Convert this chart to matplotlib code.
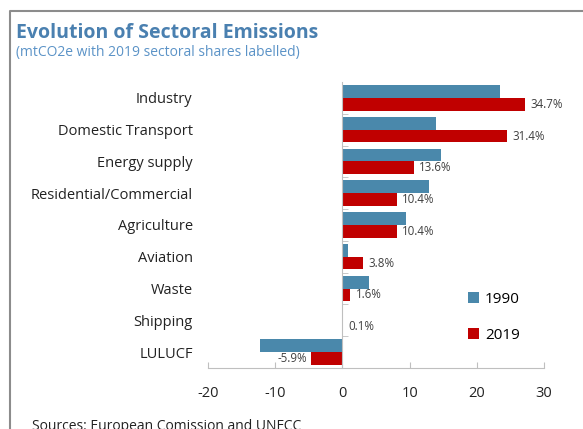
import matplotlib.pyplot as plt
import numpy as np
from matplotlib.lines import Line2D

plt.rcParams["font.family"] = ["Open Sans", "DejaVu Sans"]
plt.rcParams["axes.unicode_minus"] = False

sectors = ["Industry", "Domestic Transport", "Energy supply", "Residential/Commercial",
           "Agriculture", "Aviation", "Waste", "Shipping", "LULUCF"]
emissions_1990 = [23.4, 14.0, 14.7, 12.9, 9.5, 0.8, 4.0, 0.05, -12.3]
emissions_2019 = [27.1, 24.5, 10.6, 8.1, 8.1, 3.0, 1.2, 0.08, -4.7]
shares_2019 = ["34.7%", "31.4%", "13.6%", "10.4%", "10.4%", "3.8%", "1.6%", "0.1%", "-5.9%"]

blue = "#4a88ab"
red = "#c00000"
grey = "#bfbfbf"

fig = plt.figure(figsize=(5.83, 4.29), dpi=100)
ax = fig.add_axes([0.3568, 0.1422, 0.5763, 0.6667])

y = np.arange(len(sectors))
h = 0.4
ax.barh(y - h / 2, emissions_1990, height=h, color=blue, label="1990")
ax.barh(y + h / 2, emissions_2019, height=h, color=red, label="2019")

for yi, v, s in zip(y, emissions_2019, shares_2019):
    if v < 0:
        ax.annotate(s, (v, yi + h / 2), xytext=(-3, 0), textcoords="offset points",
                    ha="right", va="center", fontsize=8.3, color="#404040")
    else:
        ax.annotate(s, (v, yi + h / 2), xytext=(4, 0), textcoords="offset points",
                    ha="left", va="center", fontsize=8.3, color="#404040")

ax.set_xlim(-20, 30)
ax.set_ylim(len(sectors) - 0.5, -0.5)
ax.set_xticks([-20, -10, 0, 10, 20, 30])
ax.tick_params(axis="x", direction="in", length=4, color=grey, labelsize=10.5,
               pad=13, labelcolor="#222222")

# y axis drawn at zero, with small marks between categories
for side in ["top", "right"]:
    ax.spines[side].set_visible(False)
ax.spines["bottom"].set_color(grey)
ax.spines["left"].set_position(("data", 0))
ax.spines["left"].set_color(grey)
ax.set_yticks(y)
ax.set_yticklabels([])
ax.set_yticks(np.arange(len(sectors)) + 0.5, minor=True)
ax.tick_params(axis="y", which="major", length=0)
ax.tick_params(axis="y", which="minor", direction="in", length=4, color=grey)

sec = ax.secondary_yaxis("left")
sec.set_yticks(y)
sec.set_yticklabels(sectors)
sec.tick_params(length=0, labelsize=10.5, pad=11, labelcolor="#222222")
sec.spines["left"].set_visible(False)

ax.legend(loc="upper left", bbox_to_anchor=(0.752, 0.294), frameon=False, fontsize=11,
          handlelength=0.7, handleheight=0.7, handletextpad=0.4, labelspacing=1.4,
          borderpad=0)

fig.text(0.027, 0.9107, "Evolution of Sectoral Emissions", fontsize=14, fontweight="bold",
         color="#4a80b0", va="baseline")
fig.text(0.027, 0.8695, "(mtCO2e with 2019 sectoral shares labelled)", fontsize=10,
         color="#5b93c7", va="baseline")
fig.text(0.055, -0.003, "Sources: European Comission and UNFCC", fontsize=10,
         color="#222222", va="baseline")

fig.add_artist(Line2D([10 / 583, 10 / 583, 1], [0, 1 - 11 / 429, 1 - 11 / 429],
                      transform=fig.transFigure, color="#8c8c8c", lw=1.5))

fig.savefig("out.png", dpi=100)
